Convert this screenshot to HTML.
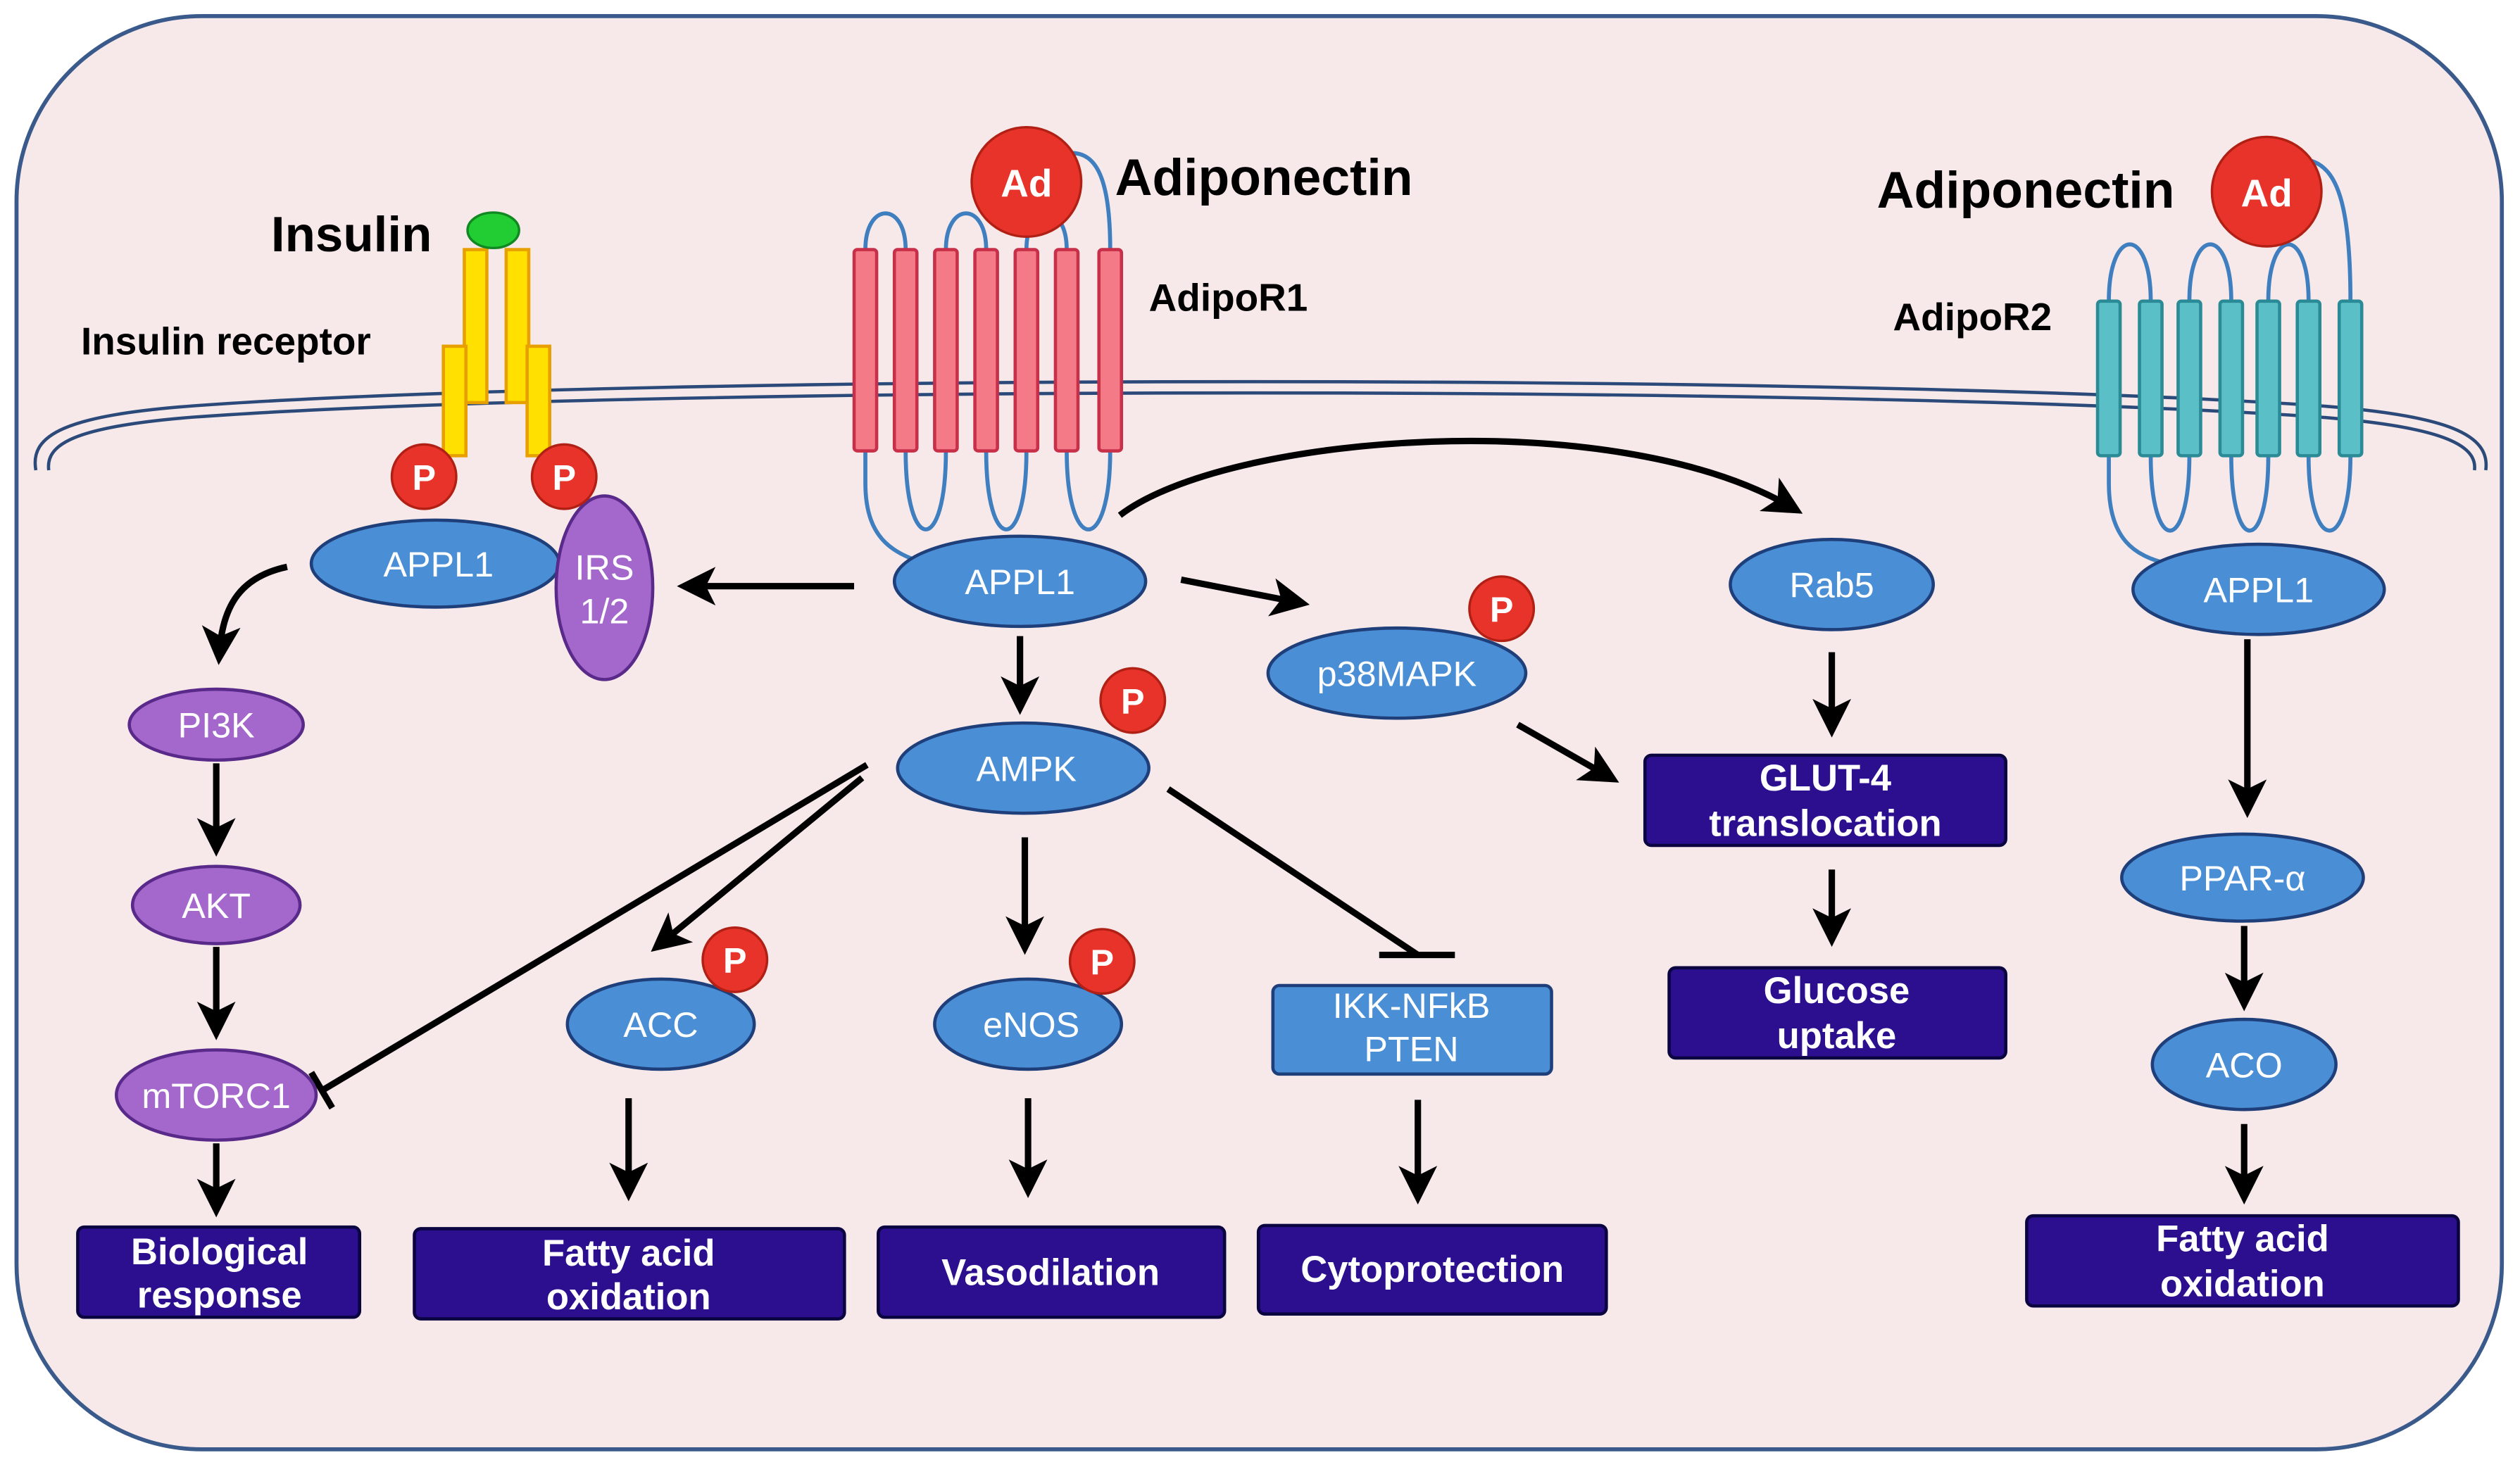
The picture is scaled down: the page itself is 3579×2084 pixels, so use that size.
<!DOCTYPE html>
<html><head><meta charset="utf-8"><style>
html,body{margin:0;padding:0;background:#fff;}
svg{display:block;}
text{font-family:"Liberation Sans",sans-serif;}
</style></head><body>
<svg width="3579" height="2084" viewBox="0 0 1564 911" xmlns="http://www.w3.org/2000/svg">
<defs>
<marker id="ah" markerWidth="6" markerHeight="6" refX="4" refY="3" orient="auto" markerUnits="strokeWidth">
<path d="M0,0 L6,3 L0,6 L1.5,3 z" fill="#000"/>
</marker>
</defs>
<rect x="10" y="10" width="1543" height="890" rx="115" fill="#f7e9e9" stroke="#3a5a8c" stroke-width="2.5"/>
<!-- membrane -->
<path d="M22,292 C18,270 40,258 120,252 C400,232 1150,232 1440,252 C1520,258 1546,270 1543,292" fill="none" stroke="#2b4a7a" stroke-width="2"/>
<path d="M30,292 C28,276 45,265 120,259 C400,239 1150,239 1440,259 C1515,265 1538,276 1536,292" fill="none" stroke="#2b4a7a" stroke-width="2"/>

<!-- Insulin receptor -->
<g fill="#ffe000" stroke="#e8a000" stroke-width="2">
<rect x="288" y="155" width="14" height="95"/>
<rect x="314" y="155" width="14" height="95"/>
<rect x="275" y="215" width="14" height="68"/>
<rect x="327" y="215" width="14" height="68"/>
</g>
<ellipse cx="306" cy="143" rx="16" ry="11" fill="#22cc33" stroke="#118822" stroke-width="1.5"/>
<text x="168" y="156" font-size="31" font-weight="bold">Insulin</text>
<text x="50" y="220" font-size="24" font-weight="bold">Insulin receptor</text>

<!-- AdipoR1 -->
<g fill="none" stroke="#3f7fc0" stroke-width="2.5">
<path d="M537,280 L537,300 C537,340 560,345 580,352"/>
<path d="M562,280 C562,345 587,345 587,280"/>
<path d="M612,280 C612,345 637,345 637,280"/>
<path d="M662,280 C662,345 689,345 689,280"/>
<path d="M537,155 C537,125 562,125 562,155"/>
<path d="M587,155 C587,125 612,125 612,155"/>
<path d="M637,155 C637,125 662,125 662,155"/>
<path d="M689,155 C689,110 680,95 665,95"/>
</g>
<g fill="#f47a88" stroke="#c8304a" stroke-width="2">
<rect x="530" y="155" width="14" height="125" rx="2"/>
<rect x="555" y="155" width="14" height="125" rx="2"/>
<rect x="580" y="155" width="14" height="125" rx="2"/>
<rect x="605" y="155" width="14" height="125" rx="2"/>
<rect x="630" y="155" width="14" height="125" rx="2"/>
<rect x="655" y="155" width="14" height="125" rx="2"/>
<rect x="682" y="155" width="14" height="125" rx="2"/>
</g>
<circle cx="637" cy="113" r="34" fill="#e8332a" stroke="#b02015" stroke-width="1.5"/>
<text x="637" y="122" font-size="24" font-weight="bold" fill="#fff" text-anchor="middle">Ad</text>
<text x="692" y="121" font-size="32" font-weight="bold">Adiponectin</text>
<text x="713" y="193" font-size="24" font-weight="bold">AdipoR1</text>

<!-- AdipoR2 -->
<g fill="none" stroke="#3f7fc0" stroke-width="2.5">
<path d="M1309,283 L1309,300 C1309,335 1325,345 1345,350"/>
<path d="M1335,283 C1335,345 1359,345 1359,283"/>
<path d="M1385,283 C1385,345 1408,345 1408,283"/>
<path d="M1433,283 C1433,345 1459,345 1459,283"/>
<path d="M1309,187 C1309,140 1335,140 1335,187"/>
<path d="M1359,187 C1359,140 1385,140 1385,187"/>
<path d="M1408,187 C1408,140 1433,140 1433,187"/>
<path d="M1459,187 C1459,125 1450,105 1435,100"/>
</g>
<g fill="#5bbfc8" stroke="#2a8a96" stroke-width="2">
<rect x="1302" y="187" width="14" height="96" rx="2"/>
<rect x="1328" y="187" width="14" height="96" rx="2"/>
<rect x="1352" y="187" width="14" height="96" rx="2"/>
<rect x="1378" y="187" width="14" height="96" rx="2"/>
<rect x="1401" y="187" width="14" height="96" rx="2"/>
<rect x="1426" y="187" width="14" height="96" rx="2"/>
<rect x="1452" y="187" width="14" height="96" rx="2"/>
</g>
<circle cx="1407" cy="119" r="34" fill="#e8332a" stroke="#b02015" stroke-width="1.5"/>
<text x="1407" y="128" font-size="24" font-weight="bold" fill="#fff" text-anchor="middle">Ad</text>
<text x="1165" y="129" font-size="32" font-weight="bold">Adiponectin</text>
<text x="1175" y="205" font-size="24" font-weight="bold">AdipoR2</text>

<!-- arrows -->
<g stroke="#000" stroke-width="4" fill="none">
<path d="M178,352 C150,358 138,375 136,405" marker-end="url(#ah)"/>
<line x1="134" y1="474" x2="134" y2="524" marker-end="url(#ah)"/>
<line x1="134" y1="588" x2="134" y2="638" marker-end="url(#ah)"/>
<line x1="134" y1="710" x2="134" y2="748" marker-end="url(#ah)"/>
<line x1="530" y1="364" x2="428" y2="364" marker-end="url(#ah)"/>
<line x1="633" y1="395" x2="633" y2="436" marker-end="url(#ah)"/>
<line x1="733" y1="360" x2="805" y2="374" marker-end="url(#ah)"/>
<path d="M695,320 C760,270 1000,250 1112,315" marker-end="url(#ah)"/>
<line x1="942" y1="450" x2="998" y2="482" marker-end="url(#ah)"/>
<line x1="1137" y1="405" x2="1137" y2="450" marker-end="url(#ah)"/>
<line x1="1137" y1="540" x2="1137" y2="580" marker-end="url(#ah)"/>
<line x1="535" y1="483" x2="410" y2="586" marker-end="url(#ah)"/>
<line x1="538" y1="475" x2="200" y2="677"/>
<line x1="193" y1="666" x2="206" y2="688"/>
<line x1="636" y1="520" x2="636" y2="585" marker-end="url(#ah)"/>
<line x1="725" y1="490" x2="880" y2="593"/>
<line x1="856" y1="593" x2="903" y2="593"/>
<line x1="390" y1="682" x2="390" y2="738" marker-end="url(#ah)"/>
<line x1="638" y1="682" x2="638" y2="736" marker-end="url(#ah)"/>
<line x1="880" y1="683" x2="880" y2="740" marker-end="url(#ah)"/>
<line x1="1395" y1="397" x2="1395" y2="500" marker-end="url(#ah)"/>
<line x1="1393" y1="575" x2="1393" y2="620" marker-end="url(#ah)"/>
<line x1="1393" y1="698" x2="1393" y2="740" marker-end="url(#ah)"/>
</g>

<!-- ovals -->
<g stroke="#1f3f7a" stroke-width="2" fill="#4a8ed6">
<ellipse cx="270" cy="350" rx="77" ry="27"/>
<ellipse cx="633" cy="361" rx="78" ry="28"/>
<ellipse cx="635" cy="477" rx="78" ry="28"/>
<ellipse cx="867" cy="418" rx="80" ry="28"/>
<ellipse cx="1137" cy="363" rx="63" ry="28"/>
<ellipse cx="1402" cy="366" rx="78" ry="28"/>
<ellipse cx="1392" cy="545" rx="75" ry="27"/>
<ellipse cx="1393" cy="661" rx="57" ry="28"/>
<ellipse cx="410" cy="636" rx="58" ry="28"/>
<ellipse cx="638" cy="636" rx="58" ry="28"/>
</g>
<g stroke="#5a2a8a" stroke-width="2" fill="#a468cc">
<ellipse cx="375" cy="365" rx="30" ry="57"/>
<ellipse cx="134" cy="450" rx="54" ry="22"/>
<ellipse cx="134" cy="562" rx="52" ry="24"/>
<ellipse cx="134" cy="680" rx="62" ry="28"/>
</g>
<rect x="790" y="612" width="173" height="55" rx="4" fill="#4a8ed6" stroke="#1f3f7a" stroke-width="2"/>

<g fill="#fff" font-size="22" text-anchor="middle">
<text x="272" y="358">APPL1</text>
<text x="375" y="360">IRS</text>
<text x="375" y="387">1/2</text>
<text x="633" y="369">APPL1</text>
<text x="637" y="485">AMPK</text>
<text x="867" y="426">p38MAPK</text>
<text x="1137" y="371">Rab5</text>
<text x="1402" y="374">APPL1</text>
<text x="1392" y="553">PPAR-α</text>
<text x="1393" y="669">ACO</text>
<text x="410" y="644">ACC</text>
<text x="640" y="644">eNOS</text>
<text x="134" y="458">PI3K</text>
<text x="134" y="570">AKT</text>
<text x="134" y="688">mTORC1</text>
<text x="876" y="632">IKK-NFkB</text>
<text x="876" y="659">PTEN</text>
</g>

<!-- P circles -->
<g fill="#e8332a" stroke="#b02015" stroke-width="1.5">
<circle cx="263" cy="296" r="20"/>
<circle cx="350" cy="296" r="20"/>
<circle cx="703" cy="435" r="20"/>
<circle cx="932" cy="378" r="20"/>
<circle cx="456" cy="596" r="20"/>
<circle cx="684" cy="597" r="20"/>
</g>
<g fill="#fff" font-size="22" font-weight="bold" text-anchor="middle">
<text x="263" y="304">P</text>
<text x="350" y="304">P</text>
<text x="703" y="443">P</text>
<text x="932" y="386">P</text>
<text x="456" y="604">P</text>
<text x="684" y="605">P</text>
</g>

<!-- outcome boxes -->
<g fill="#2b0f8f" stroke="#0a0440" stroke-width="2">
<rect x="48" y="762" width="175" height="56" rx="4"/>
<rect x="257" y="763" width="267" height="56" rx="4"/>
<rect x="545" y="762" width="215" height="56" rx="4"/>
<rect x="781" y="761" width="216" height="55" rx="4"/>
<rect x="1021" y="469" width="224" height="56" rx="4"/>
<rect x="1036" y="601" width="209" height="56" rx="4"/>
<rect x="1258" y="755" width="268" height="56" rx="4"/>
</g>
<g fill="#fff" font-size="23" font-weight="bold" text-anchor="middle">
<text x="136" y="785">Biological</text>
<text x="136" y="812">response</text>
<text x="390" y="786">Fatty acid</text>
<text x="390" y="813">oxidation</text>
<text x="652" y="798">Vasodilation</text>
<text x="889" y="796">Cytoprotection</text>
<text x="1133" y="491">GLUT-4</text>
<text x="1133" y="519">translocation</text>
<text x="1140" y="623">Glucose</text>
<text x="1140" y="651">uptake</text>
<text x="1392" y="777">Fatty acid</text>
<text x="1392" y="805">oxidation</text>
</g>
</svg>
</body></html>
